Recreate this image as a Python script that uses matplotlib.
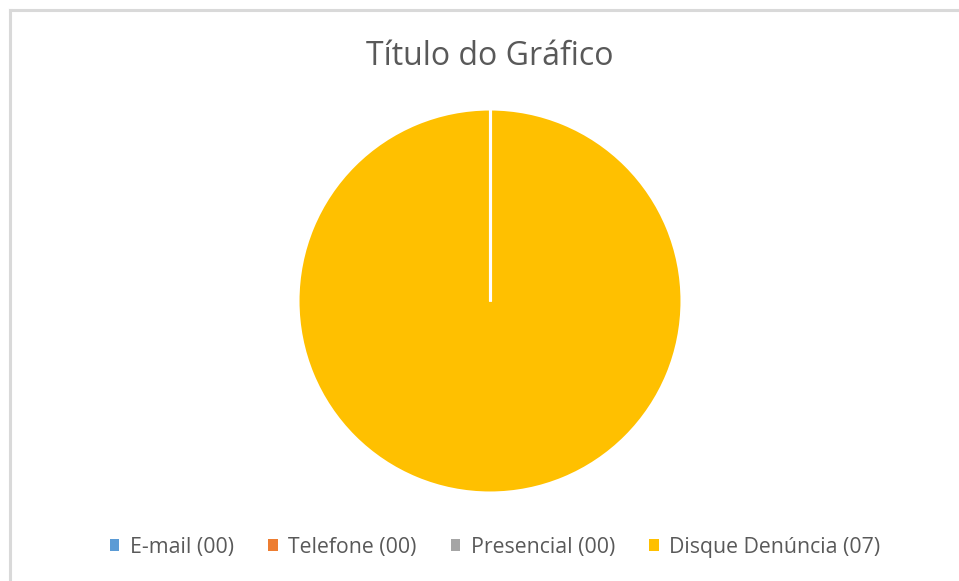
import matplotlib
matplotlib.use("Agg")
import numpy as np
import matplotlib.pyplot as plt
from matplotlib.lines import Line2D
from matplotlib.patches import Patch

categories = ["E-mail", "Telefone", "Presencial", "Disque Denúncia"]
values = [0, 0, 0, 7]
colors = ["#5B9BD5", "#ED7D31", "#A5A5A5", "#FFC000"]
title = "Título do Gráfico"
labels = [f"{c} ({v:02d})" for c, v in zip(categories, values)]

plt.rcParams['font.family'] = ['Open Sans', 'DejaVu Sans']

W, H = 959, 581
fig = plt.figure(figsize=(W / 100, H / 100), dpi=100)
fig.patch.set_facecolor("white")

# Chart frame (top and left borders visible)
fig.add_artist(Line2D([9.5 / W, 1.0], [1 - 9.5 / H, 1 - 9.5 / H], color="#D9D9D9", lw=2.2, transform=fig.transFigure))
fig.add_artist(Line2D([9.5 / W, 9.5 / W], [0, 1 - 9.5 / H], color="#D9D9D9", lw=2.2, transform=fig.transFigure))

cx, cy, r = 490, 301, 192
ax = fig.add_axes([(cx - r) / W, (H - cy - r) / H, 2 * r / W, 2 * r / H])
wedges, _ = ax.pie(values, colors=colors, startangle=90, counterclock=False,
                   radius=1.0, wedgeprops=dict(edgecolor="white", linewidth=2.2))
# Excel draws zero-size slices as white separator lines
for w in wedges:
    if abs(w.theta2 - w.theta1) < 1e-9:
        t = np.deg2rad(w.theta1)
        ax.plot([w.center[0], w.center[0] + w.r * np.cos(t)],
                [w.center[1], w.center[1] + w.r * np.sin(t)],
                color="white", lw=2.2, solid_capstyle="butt", zorder=5)
ax.set_xlim(-1.0, 1.0)
ax.set_ylim(-1.0, 1.0)
ax.set_aspect("equal")
ax.axis("off")

fig.text(cx / W, 1 - 65 / H, title, ha="center", va="baseline", fontsize=23, color="#595959")

handles = [Patch(facecolor=c, edgecolor="none") for c in colors]
leg = fig.legend(handles, labels, loc="center", bbox_to_anchor=(495 / W, 1 - 547 / H), ncol=4,
                 frameon=False, fontsize=15.3, handlelength=0.45, handleheight=0.45,
                 handletextpad=0.5, columnspacing=1.6, labelcolor="#595959")

fig.savefig("out.png", dpi=100, facecolor="white")
